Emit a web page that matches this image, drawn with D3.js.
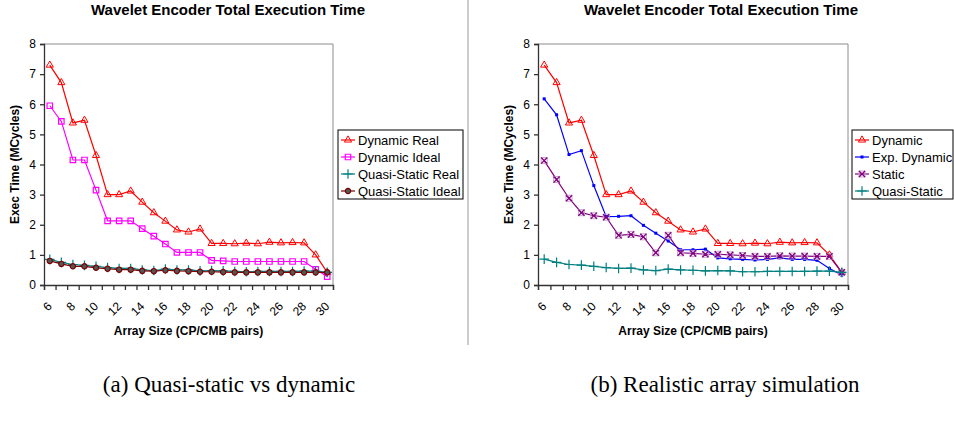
<!DOCTYPE html>
<html lang="en">
<head>
<meta charset="utf-8">
<title>Wavelet Encoder Total Execution Time</title>
<script src="https://cdn.jsdelivr.net/npm/d3@7"></script>
<style>
  body { margin: 0; background: #fff; }
  text { font-family: Arial, "Liberation Sans", sans-serif; fill: #000; }
</style>
</head>
<body>
<svg width="954" height="425" id="mainsvg"></svg>
<script>
// categories: array size (CP/CMB pairs)
const sizes = [6, 7, 8, 9, 10, 11, 12, 13, 14, 15, 16, 17, 18, 19, 20, 21, 22, 23, 24, 25, 26, 27, 28, 29, 30];
const tickLabels = [6, 8, 10, 12, 14, 16, 18, 20, 22, 24, 26, 28, 30];
const yTicks = [0, 1, 2, 3, 4, 5, 6, 7, 8];

// exec time, MCycles
const dynamicReal = [7.3, 6.72, 5.38, 5.47, 4.3, 3.0, 3.0, 3.12, 2.75, 2.4, 2.12, 1.83, 1.76, 1.86, 1.38, 1.38, 1.37, 1.39, 1.37, 1.42, 1.4, 1.41, 1.4, 1.0, 0.42];
const dynamicIdeal = [5.95, 5.43, 4.15, 4.15, 3.15, 2.13, 2.13, 2.13, 1.87, 1.62, 1.36, 1.08, 1.08, 1.08, 0.82, 0.8, 0.78, 0.78, 0.78, 0.78, 0.78, 0.78, 0.78, 0.52, 0.28];
const quasiReal = [0.85, 0.75, 0.68, 0.65, 0.62, 0.58, 0.55, 0.55, 0.5, 0.48, 0.53, 0.5, 0.5, 0.47, 0.48, 0.47, 0.45, 0.44, 0.45, 0.45, 0.45, 0.45, 0.46, 0.46, 0.42];
const quasiIdeal = [0.8, 0.7, 0.62, 0.62, 0.57, 0.54, 0.51, 0.51, 0.47, 0.46, 0.49, 0.47, 0.46, 0.44, 0.44, 0.43, 0.42, 0.42, 0.42, 0.42, 0.42, 0.42, 0.42, 0.42, 0.42];

const dynamicB = [7.3, 6.72, 5.38, 5.47, 4.3, 3.0, 3.0, 3.12, 2.75, 2.4, 2.12, 1.83, 1.76, 1.86, 1.38, 1.38, 1.37, 1.39, 1.37, 1.42, 1.4, 1.41, 1.4, 1.0, 0.42];
const expDynamic = [6.18, 5.65, 4.33, 4.46, 3.3, 2.27, 2.28, 2.3, 1.98, 1.72, 1.46, 1.17, 1.17, 1.19, 0.9, 0.87, 0.85, 0.83, 0.85, 0.9, 0.85, 0.85, 0.82, 0.55, 0.33];
const staticB = [4.13, 3.5, 2.88, 2.4, 2.3, 2.25, 1.65, 1.68, 1.6, 1.07, 1.65, 1.07, 1.05, 1.02, 1.02, 1.0, 0.98, 0.95, 0.95, 0.97, 0.96, 0.96, 0.95, 0.95, 0.42];
const quasiB = [0.86, 0.75, 0.68, 0.66, 0.62, 0.58, 0.55, 0.56, 0.5, 0.48, 0.53, 0.5, 0.49, 0.47, 0.48, 0.47, 0.44, 0.44, 0.45, 0.45, 0.45, 0.45, 0.46, 0.46, 0.42];

const svg = d3.select('#mainsvg');
svg.append('rect').attr('width', 954).attr('height', 425).attr('fill', '#fff');

// marker styles
const markers = {
  tri: { type: d3.symbolTriangle, size: 22, fill: 'none', sw: 1 },
  square: { type: d3.symbolSquare, size: 30, fill: 'none', sw: 1.2 },
  plus: { type: d3.symbolPlus, size: 32, fill: 'none', sw: 1.2 },
  circle: { type: d3.symbolCircle, size: 22, fill: '#505858', sw: 1.2 },
  dot: { type: d3.symbolSquare, size: 9, fill: 'color', sw: 0 },
  xbox: { type: d3.symbolX, size: 26, fill: 'none', sw: 1.3, box: '#c9a2c9' }
};

function drawMarker(g, x, y, m, color) {
  if (m.box) {
    g.append('rect').attr('x', x - 3).attr('y', y - 3).attr('width', 6).attr('height', 6)
      .attr('fill', 'none').attr('stroke', m.box).attr('stroke-width', 1);
  }
  g.append('path')
    .attr('d', d3.symbol(m.type, m.size)())
    .attr('transform', `translate(${x},${y})`)
    .attr('fill', m.fill === 'color' ? color : m.fill)
    .attr('stroke', color)
    .attr('stroke-width', m.sw);
}

function drawPanel(p) {
  const g = svg.append('g').attr('transform', `translate(${p.left}, ${p.top})`);
  const w = p.width, h = p.height;

  const x = d3.scaleBand().domain(sizes).range([0, w]);
  const xb = d3.scaleLinear().domain([0, sizes.length]).range([0, w]);
  const y = d3.scaleLinear().domain([0, 8]).range([h, 0]);

  // plot area border (top, right)
  g.append('path').attr('d', `M0,0H${w}V${h}`).attr('fill', 'none')
    .attr('stroke', '#8c8c8c').attr('stroke-width', 1);

  // y axis
  const yAxis = g.append('g').call(d3.axisLeft(y).tickValues(yTicks).tickSize(4).tickPadding(4));
  yAxis.selectAll('text').attr('font-size', 12).attr('font-family', 'Arial, "Liberation Sans"');
  yAxis.selectAll('line, path').attr('stroke', '#333').attr('stroke-width', 1.3);

  // x axis: ticks at category boundaries
  const xAxis = g.append('g').attr('transform', `translate(0, ${h})`)
    .call(d3.axisBottom(xb).tickValues(d3.range(sizes.length + 1)).tickSize(5).tickFormat(''));
  xAxis.selectAll('line, path').attr('stroke', '#333').attr('stroke-width', 1.3);

  // rotated category labels
  g.append('g').selectAll('text').data(tickLabels).join('text')
    .attr('transform', d => `translate(${x(d) + x.bandwidth() / 2}, ${h + 19}) rotate(-45)`)
    .attr('text-anchor', 'end')
    .attr('dy', '0.35em')
    .attr('font-size', 12)
    .text(d => d);

  // series
  const line = d3.line().x((d, i) => x(sizes[i]) + x.bandwidth() / 2).y(d => y(d));
  p.series.forEach(s => {
    g.append('path').datum(s.values).attr('d', line)
      .attr('fill', 'none').attr('stroke', s.color).attr('stroke-width', 1.2);
    const mg = g.append('g');
    s.values.forEach((v, i) => drawMarker(mg, x(sizes[i]) + x.bandwidth() / 2, y(v), markers[s.marker], s.color));
  });

  // axis titles
  g.append('text').text('Array Size (CP/CMB pairs)')
    .attr('x', w / 2).attr('y', h + 50)
    .attr('text-anchor', 'middle').attr('font-size', 12).attr('font-weight', 'bold');
  g.append('text').text('Exec Time (MCycles)')
    .attr('transform', `translate(${-25}, ${h / 2}) rotate(-90)`)
    .attr('text-anchor', 'middle').attr('font-size', 12).attr('font-weight', 'bold');

  // chart title
  svg.append('text').text('Wavelet Encoder Total Execution Time')
    .attr('x', p.titleX).attr('y', 15)
    .attr('text-anchor', 'middle').attr('font-size', 15).attr('font-weight', 'bold');

  // legend
  const lg = svg.append('g').attr('transform', `translate(${p.legend.x}, ${p.legend.y})`);
  lg.append('rect').attr('width', p.legend.w).attr('height', 69)
    .attr('fill', '#fff').attr('stroke', '#000').attr('stroke-width', 1);
  p.series.forEach((s, i) => {
    const ly = 10 + i * 17;
    lg.append('line').attr('x1', 3).attr('x2', 17).attr('y1', ly).attr('y2', ly)
      .attr('stroke', s.color).attr('stroke-width', 1.2);
    drawMarker(lg, 10, ly, markers[s.marker], s.color);
    lg.append('text').text(s.name).attr('x', 20).attr('y', ly).attr('dy', '0.36em')
      .attr('font-size', 13);
  });

  // caption
  svg.append('text').text(p.caption)
    .attr('x', p.captionX).attr('y', 392)
    .attr('text-anchor', 'middle')
    .attr('font-size', 23)
    .style('font-family', '"Liberation Serif", "Times New Roman", serif');
}

drawPanel({
  left: 44, top: 44, width: 289, height: 241,
  titleX: 228, captionX: 229,
  caption: '(a) Quasi-static vs dynamic',
  legend: { x: 338, y: 130, w: 125 },
  series: [
    { name: 'Dynamic Real', values: dynamicReal, color: '#ff0000', marker: 'tri' },
    { name: 'Dynamic Ideal', values: dynamicIdeal, color: '#ff00ff', marker: 'square' },
    { name: 'Quasi-Static Real', values: quasiReal, color: '#008080', marker: 'plus' },
    { name: 'Quasi-Static Ideal', values: quasiIdeal, color: '#800000', marker: 'circle' }
  ]
});

drawPanel({
  left: 538, top: 44, width: 310, height: 241,
  titleX: 721, captionX: 725,
  caption: '(b) Realistic array simulation',
  legend: { x: 852, y: 130, w: 101 },
  series: [
    { name: 'Dynamic', values: dynamicB, color: '#ff0000', marker: 'tri' },
    { name: 'Exp. Dynamic', values: expDynamic, color: '#0000ff', marker: 'dot' },
    { name: 'Static', values: staticB, color: '#800080', marker: 'xbox' },
    { name: 'Quasi-Static', values: quasiB, color: '#008080', marker: 'plus' }
  ]
});

// chart-area border of the left chart
svg.append('line').attr('x1', 468).attr('x2', 468).attr('y1', 0).attr('y2', 345)
  .attr('stroke', '#9a9a9a').attr('stroke-width', 1);
</script>
</body>
</html>
